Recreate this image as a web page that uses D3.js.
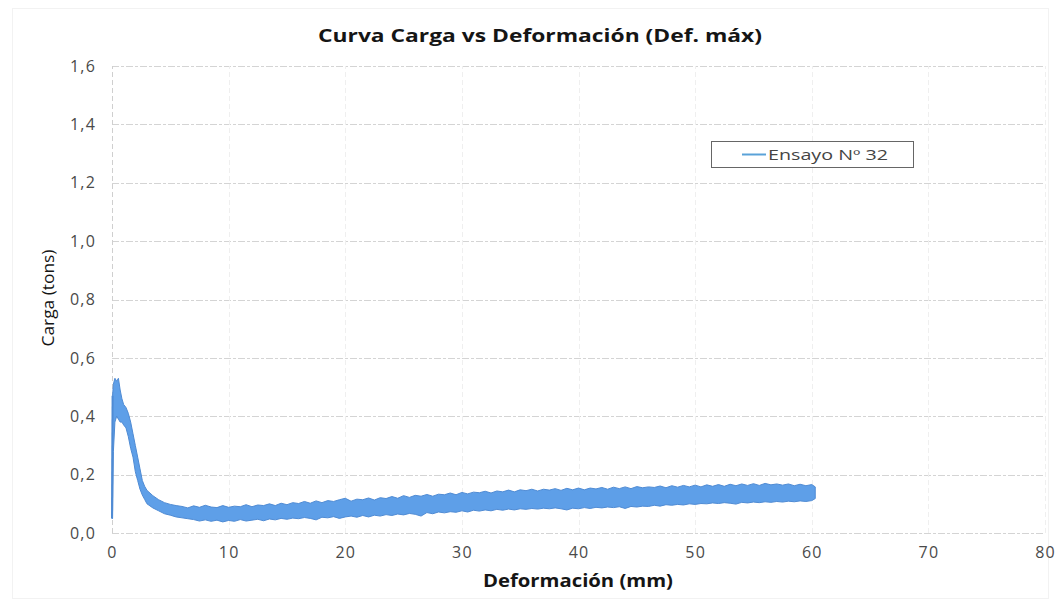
<!DOCTYPE html>
<html><head><meta charset="utf-8">
<script src="https://cdn.jsdelivr.net/npm/d3@7"></script>
<style>
html,body{margin:0;padding:0;background:#fff;}
svg{display:block;}
</style></head>
<body>
<svg id="chart" width="1057" height="606"></svg>
<script>
// ---- DATA ----
const titulo = "Curva Carga vs Deformación (Def. máx)";
const ejeX = "Deformación (mm)";
const ejeY = "Carga (tons)";
const serieNombre = "Ensayo Nº 32";
const xTicks = [0, 10, 20, 30, 40, 50, 60, 70, 80];
const yTicks = [0.0, 0.2, 0.4, 0.6, 0.8, 1.0, 1.2, 1.4, 1.6];

// deformation (mm)
const deformacion = [0.00,0.05,0.12,0.25,0.40,0.55,0.70,0.85,1.00,1.20,1.40,1.60,1.80,2.00,2.20,2.40,2.60,2.80,
3.0,3.5,4.0,4.5,5.0,5.5,6.0,6.5,7.0,7.5,8.0,8.5,9.0,9.5,10.0,10.5,11.0,11.5,12.0,12.5,13.0,13.5,14.0,14.5,15.0,15.5,16.0,16.5,17.0,17.5,18.0,18.5,19.0,19.5,
20.0,20.5,21.0,21.5,22.0,22.5,23.0,23.5,24.0,24.5,25.0,25.5,26.0,26.5,27.0,27.5,28.0,28.5,29.0,29.5,
30.0,30.5,31.0,31.5,32.0,32.5,33.0,33.5,34.0,34.5,35.0,35.5,36.0,36.5,37.0,37.5,38.0,38.5,39.0,39.5,
40.0,40.5,41.0,41.5,42.0,42.5,43.0,43.5,44.0,44.5,45.0,45.5,46.0,46.5,47.0,47.5,48.0,48.5,49.0,49.5,
50.0,50.5,51.0,51.5,52.0,52.5,53.0,53.5,54.0,54.5,55.0,55.5,56.0,56.5,57.0,57.5,58.0,58.5,59.0,59.5,60.0,60.3];

// upper edge of the noisy load band (tons)
const cargaSup = [0.07,0.47,0.51,0.53,0.52,0.53,0.49,0.46,0.44,0.43,0.41,0.38,0.34,0.30,0.26,0.22,0.18,0.16,
0.146,0.128,0.114,0.104,0.098,0.094,0.091,0.086,0.093,0.088,0.095,0.089,0.087,0.094,0.088,0.092,0.090,0.097,0.090,0.096,0.094,0.100,0.094,0.102,0.097,0.104,0.101,0.108,0.102,0.110,0.104,0.111,0.108,0.114,
0.119,0.109,0.116,0.114,0.120,0.113,0.121,0.118,0.125,0.119,0.128,0.122,0.129,0.126,0.132,0.126,0.133,0.131,0.137,0.131,
0.139,0.134,0.140,0.138,0.143,0.137,0.144,0.141,0.147,0.141,0.148,0.145,0.150,0.144,0.150,0.147,0.152,0.146,0.153,0.148,
0.154,0.148,0.154,0.151,0.156,0.150,0.157,0.152,0.158,0.152,0.159,0.155,0.158,0.156,0.161,0.155,0.162,0.157,0.163,0.158,
0.164,0.158,0.165,0.160,0.166,0.160,0.167,0.162,0.168,0.163,0.169,0.163,0.170,0.165,0.168,0.164,0.168,0.162,0.167,0.162,0.166,0.158];

// lower edge of the noisy load band (tons)
const cargaInf = [0.05,0.05,0.28,0.38,0.40,0.39,0.38,0.38,0.37,0.36,0.33,0.29,0.26,0.21,0.18,0.15,0.13,0.115,
0.100,0.086,0.076,0.066,0.061,0.055,0.052,0.049,0.046,0.041,0.045,0.040,0.044,0.038,0.043,0.040,0.046,0.041,0.044,0.047,0.042,0.048,0.045,0.050,0.047,0.051,0.049,0.053,0.050,0.045,0.054,0.052,0.056,0.050,
0.055,0.058,0.054,0.060,0.055,0.061,0.058,0.063,0.060,0.065,0.062,0.067,0.064,0.058,0.070,0.066,0.072,0.069,0.073,0.071,
0.076,0.072,0.078,0.075,0.079,0.076,0.081,0.078,0.082,0.079,0.083,0.081,0.084,0.082,0.085,0.083,0.086,0.083,0.079,0.085,
0.083,0.087,0.084,0.088,0.086,0.089,0.087,0.090,0.084,0.091,0.089,0.092,0.091,0.095,0.092,0.097,0.095,0.098,0.096,0.100,
0.098,0.101,0.100,0.103,0.101,0.104,0.102,0.099,0.105,0.103,0.106,0.104,0.107,0.105,0.108,0.106,0.109,0.107,0.110,0.108,0.111,0.118];

// ---- LAYOUT ----
const svg = d3.select("#chart");
const x = d3.scaleLinear().domain([0, 80]).range([112, 1045]);
const y = d3.scaleLinear().domain([0, 1.6]).range([533, 66]);
const fmt = v => d3.format(".1f")(v).replace(".", ",");
const FONT = "'Open Sans', 'Liberation Sans', sans-serif";

// faint chart-area border
svg.append("rect").attr("x", 12.5).attr("y", 8.5).attr("width", 1036).attr("height", 590)
  .attr("fill", "none").attr("stroke", "#f2f2f2");

// gridlines
const grid = svg.append("g");
grid.selectAll("line.h").data(yTicks).join("line")
  .attr("x1", x(0)).attr("x2", x(80))
  .attr("y1", d => Math.round(y(d)) + 0.5).attr("y2", d => Math.round(y(d)) + 0.5)
  .attr("stroke", "#d4d4d4").attr("stroke-width", 1).attr("stroke-dasharray", "7,2,3,2");
grid.selectAll("line.v").data(xTicks).join("line")
  .attr("y1", y(0)).attr("y2", y(1.6))
  .attr("x1", d => Math.round(x(d)) + 0.5).attr("x2", d => Math.round(x(d)) + 0.5)
  .attr("stroke", d => d === 0 ? "#cfcfcf" : "#efefef").attr("stroke-width", 1)
  .attr("stroke-dasharray", "5,3");

// axes (labels only, no axis lines)
const xAxis = d3.axisBottom(x).tickValues(xTicks).tickSize(0).tickPadding(14).tickFormat(d3.format("d"));
const gx = svg.append("g").attr("transform", `translate(0,${y(0)})`).call(xAxis);
gx.select(".domain").remove();
gx.selectAll("text").attr("font-family", FONT).attr("font-size", 16).attr("letter-spacing", 1.2).attr("fill", "#4a4a4a");

const yAxis = d3.axisLeft(y).tickValues(yTicks).tickSize(0).tickPadding(16).tickFormat(fmt);
const gy = svg.append("g").attr("transform", `translate(${x(0)},0)`).call(yAxis);
gy.select(".domain").remove();
gy.selectAll("text").attr("font-family", FONT).attr("font-size", 16).attr("letter-spacing", 1.2).attr("fill", "#4a4a4a");

// data band
const filas = deformacion.map((d, i) => ({x: d, lo: cargaInf[i], hi: cargaSup[i]}));
const area = d3.area().x(d => x(d.x)).y0(d => y(d.lo)).y1(d => y(d.hi));
svg.append("path").datum(filas).attr("d", area)
  .attr("fill", "#5e9fe8").attr("stroke", "#4f8bd4").attr("stroke-width", 1)
  .attr("stroke-linejoin", "round");
// thin initial vertical trace at x = 0
const linea = d3.line().x(d => x(d.x)).y(d => y(d.v));
svg.append("path").datum([{x: deformacion[0], v: cargaInf[0]}, {x: deformacion[1], v: cargaSup[1]}])
  .attr("d", linea).attr("fill", "none").attr("stroke", "#4f8bd4").attr("stroke-width", 2);

// title
svg.append("text").attr("x", 540).attr("y", 42).attr("text-anchor", "middle")
  .attr("font-family", FONT).attr("font-weight", "bold").attr("font-size", 18).attr("fill", "#151515")
  .attr("textLength", 444).attr("lengthAdjust", "spacingAndGlyphs")
  .text(titulo);

// axis titles
svg.append("text").attr("x", 578).attr("y", 587).attr("text-anchor", "middle")
  .attr("font-family", FONT).attr("font-weight", "bold").attr("font-size", 18).attr("fill", "#151515")
  .attr("textLength", 190).attr("lengthAdjust", "spacingAndGlyphs")
  .text(ejeX);
svg.append("text").attr("transform", `translate(54,298) rotate(-90)`).attr("text-anchor", "middle")
  .attr("font-family", FONT).attr("font-size", 16).attr("fill", "#151515")
  .attr("textLength", 97).attr("lengthAdjust", "spacingAndGlyphs")
  .text(ejeY);

// legend
const lg = svg.append("g");
lg.append("rect").attr("x", 711.5).attr("y", 141.5).attr("width", 202).attr("height", 26)
  .attr("fill", "#fff").attr("stroke", "#666").attr("stroke-width", 1);
lg.append("line").attr("x1", 742).attr("x2", 766).attr("y1", 154.5).attr("y2", 154.5)
  .attr("stroke", "#5aa2d8").attr("stroke-width", 2);
lg.append("text").attr("x", 768).attr("y", 159.5)
  .attr("font-family", FONT).attr("font-size", 14).attr("fill", "#444")
  .attr("textLength", 120).attr("lengthAdjust", "spacingAndGlyphs")
  .text(serieNombre);
</script>
</body></html>
